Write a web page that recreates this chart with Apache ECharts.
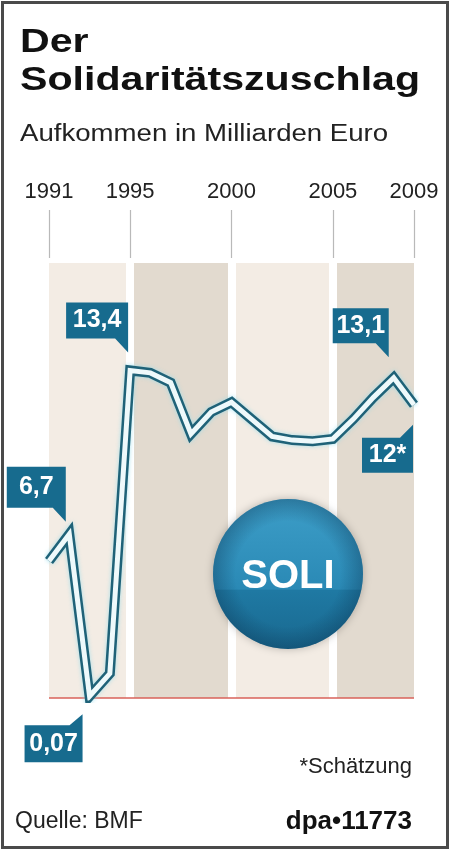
<!DOCTYPE html>
<html>
<head>
<meta charset="utf-8">
<script src="https://cdn.jsdelivr.net/npm/echarts@6/dist/echarts.min.js"></script>
<style>
  html, body { margin: 0; padding: 0; background: #fff; }
  #chart { width: 450px; height: 850px; }
</style>
</head>
<body>
<div id="chart"></div>
<script>
const years = ['1991', '1992', '1993', '1994', '1995', '1996', '1997', '1998', '1999', '2000',
  '2001', '2002', '2003', '2004', '2005', '2006', '2007', '2008', '2009'];
const revenue = [5.6, 6.7, 0.07, 1.0, 13.4, 13.3, 12.9, 10.8, 11.7, 12.1,
  11.4, 10.7, 10.55, 10.5, 10.6, 11.4, 12.3, 13.1, 12.0];
const tickYears = ['1991', '1995', '2000', '2005', '2009'];
const calloutYears = ['1992', '1993', '1995', '2008', '2009'];
const calloutText = ['6,7', '0,07', '13,4', '13,1', '12*'];

const FONT = '"Liberation Sans", Arial, sans-serif';
const BOX = '#176b8e';
const BAND_LIGHT = '#f3ece4';
const BAND_DARK = '#e2dacf';

// box + little tail, tail on the right edge, pointing down or up
function calloutPath(w, h, t, down) {
  return down
    ? 'path://M0,0H' + w + 'V' + (h + t) + 'L' + (w - 13) + ',' + h + 'H0Z'
    : 'path://M0,' + t + 'H' + (w - 13) + 'L' + w + ',0V' + (h + t) + 'H0Z';
}

const calloutShape = {
  '1992': { w: 59, h: 41, t: 14, down: true, off: [-33, -40] },
  '1993': { w: 58, h: 37, t: 11, down: false, off: [-36, 42] },
  '1995': { w: 62, h: 36, t: 14, down: true, off: [-33, -43] },
  '2008': { w: 56, h: 35, t: 14, down: true, off: [-33, -45] },
  '2009': { w: 51, h: 35, t: 13, down: false, off: [-26.5, 44] },
};

const showTick = (i) => tickYears.includes(years[i]);

const chart = echarts.init(document.getElementById('chart'), null, { renderer: 'canvas' });

const bandData = [];
for (let i = 0; i < tickYears.length - 1; i++) {
  bandData.push([
    { xAxis: tickYears[i], yAxis: 17.8, itemStyle: { color: i % 2 ? BAND_DARK : BAND_LIGHT } },
    { xAxis: tickYears[i + 1], yAxis: 0 },
  ]);
}

const gapLines = tickYears.slice(1, -1).map((y) => ({
  xAxis: y,
  lineStyle: { color: '#ffffff', width: 8, type: 'solid' },
}));

const markPoints = calloutYears.map((y, i) => {
  const s = calloutShape[y];
  return {
    coord: [y, revenue[years.indexOf(y)]],
    symbol: calloutPath(s.w, s.h, s.t, s.down),
    symbolSize: [s.w, s.h + s.t],
    symbolOffset: s.off,
    itemStyle: { color: BOX },
    label: {
      formatter: calloutText[i],
      offset: [0, s.down ? -s.t / 2 : s.t / 2],
    },
  };
});

const option = {
  backgroundColor: '#ffffff',
  animation: false,
  grid: { left: 49, right: 36, top: 258, bottom: 152 },
  xAxis: {
    type: 'category',
    position: 'top',
    boundaryGap: false,
    data: years,
    axisLine: { show: false, onZero: false },
    axisTick: {
      show: true,
      length: 48,
      interval: showTick,
      lineStyle: { color: '#b9b9b9', width: 1.2 },
    },
    axisLabel: {
      interval: showTick,
      margin: 55,
      color: '#222',
      fontSize: 22,
      fontFamily: FONT,
    },
    splitLine: { show: false },
  },
  yAxis: { type: 'value', min: 0, max: 18, show: false },
  series: [
    {
      type: 'line',
      data: revenue,
      z: 3,
      symbol: 'none',
      lineStyle: {
        color: '#1f6278', width: 10, join: 'miter', miterLimit: 4,
        shadowColor: 'rgba(150,220,235,0.8)', shadowBlur: 4,
      },
      markArea: { silent: true, z: 1, data: bandData },
      markLine: {
        silent: true,
        z: 2,
        symbol: 'none',
        label: { show: false },
        data: gapLines.concat([{ yAxis: 0, lineStyle: { color: '#d9625a', width: 1.5, type: 'solid' } }]),
      },
    },
    {
      type: 'line',
      data: revenue,
      z: 4,
      symbol: 'none',
      lineStyle: { color: '#eef9fb', width: 5, join: 'miter', miterLimit: 4 },
      markPoint: {
        silent: true,
        data: markPoints,
        label: {
          show: true,
          position: 'inside',
          color: '#ffffff',
          fontSize: 25,
          fontWeight: 'bold',
          fontFamily: FONT,
        },
      },
    },
  ],
  graphic: [
    {
      type: 'text', x: 20, y: 43, scaleX: 1.21,
      style: { text: 'Der', font: 'bold 34px ' + FONT, fill: '#111', verticalAlign: 'middle' },
    },
    {
      type: 'text', x: 20, y: 81, scaleX: 1.21,
      style: { text: 'Solidaritätszuschlag', font: 'bold 34px ' + FONT, fill: '#111', verticalAlign: 'middle' },
    },
    {
      type: 'text', x: 20, y: 135, scaleX: 1.2,
      style: { text: 'Aufkommen in Milliarden Euro', font: '23px ' + FONT, fill: '#222', verticalAlign: 'middle' },
    },
    {
      type: 'circle', z: 10,
      shape: { cx: 288, cy: 574, r: 75 },
      style: {
        fill: {
          type: 'linear', x: 0, y: 0, x2: 0, y2: 1,
          colorStops: [
            { offset: 0, color: '#3d9ec8' },
            { offset: 0.6, color: '#2a89b5' },
            { offset: 0.61, color: '#1f79a3' },
            { offset: 1, color: '#196990' },
          ],
        },
        shadowBlur: 8,
        shadowColor: 'rgba(0,0,0,0.25)',
      },
    },
    {
      type: 'circle', z: 11,
      shape: { cx: 288, cy: 574, r: 75 },
      style: {
        fill: {
          type: 'radial', x: 0.5, y: 0.5, r: 0.5,
          colorStops: [
            { offset: 0.7, color: 'rgba(10,50,80,0)' },
            { offset: 1, color: 'rgba(10,50,80,0.35)' },
          ],
        },
      },
    },
    {
      type: 'text', x: 288, y: 577, z: 12,
      style: { text: 'SOLI', font: 'bold 40px ' + FONT, fill: '#ffffff', align: 'center', verticalAlign: 'middle' },
    },
    {
      type: 'text', x: 412, y: 767,
      style: { text: '*Schätzung', font: '22px ' + FONT, fill: '#222', align: 'right', verticalAlign: 'middle' },
    },
    {
      type: 'text', x: 15, y: 822,
      style: { text: 'Quelle: BMF', font: '23px ' + FONT, fill: '#222', verticalAlign: 'middle' },
    },
    {
      type: 'text', x: 412, y: 822,
      style: { text: 'dpa•11773', font: 'bold 26px ' + FONT, fill: '#111', align: 'right', verticalAlign: 'middle' },
    },
    {
      type: 'rect', z: 100,
      shape: { x: 2.5, y: 2.5, width: 445, height: 845 },
      style: { fill: 'none', stroke: '#4a4a4a', lineWidth: 3 },
    },
  ],
};

chart.setOption(option);
</script>
</body>
</html>
